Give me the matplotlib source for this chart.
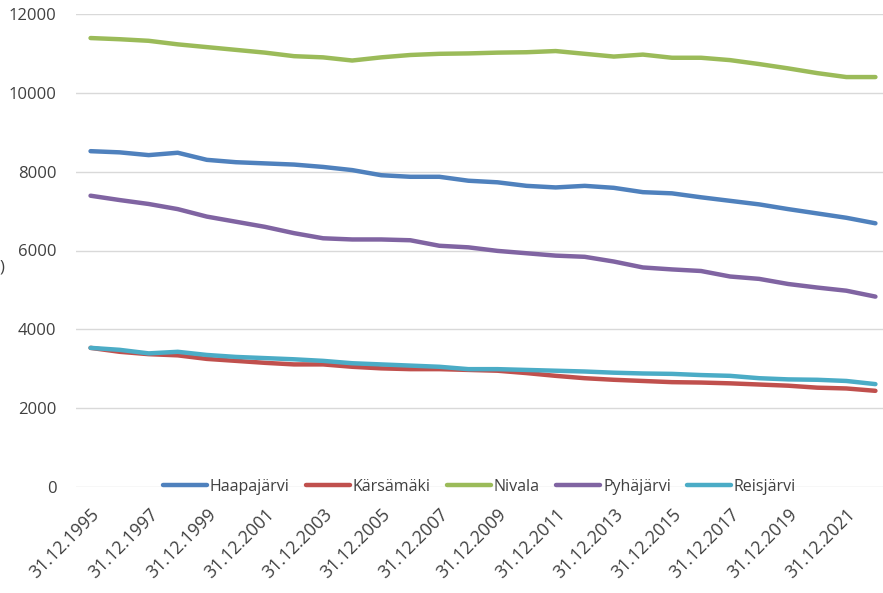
import matplotlib.pyplot as plt

plt.rcParams['font.family'] = ['Open Sans', 'DejaVu Sans']

# vuodet 1995-2022, väkiluku 31.12.
years = list(range(1995, 2023))
haapajarvi = [8520, 8490, 8420, 8480, 8300, 8240, 8210, 8180, 8120, 8040, 7910, 7870, 7870, 7770,
              7730, 7640, 7600, 7640, 7590, 7480, 7450, 7350, 7260, 7170, 7050, 6940, 6830, 6690]
karsamaki = [3530, 3430, 3370, 3340, 3250, 3200, 3150, 3110, 3110, 3050, 3010, 2990, 2990, 2970,
             2950, 2890, 2820, 2760, 2720, 2690, 2660, 2650, 2630, 2600, 2570, 2520, 2500, 2440]
nivala = [11390, 11360, 11320, 11230, 11160, 11090, 11020, 10930, 10900, 10820, 10900, 10960, 10990, 11000,
          11020, 11030, 11060, 10990, 10920, 10970, 10890, 10890, 10830, 10730, 10620, 10500, 10400, 10400]
pyhajarvi = [7390, 7280, 7180, 7050, 6860, 6730, 6600, 6440, 6310, 6280, 6280, 6260, 6120, 6080,
             5990, 5930, 5870, 5840, 5720, 5570, 5520, 5480, 5340, 5280, 5150, 5060, 4980, 4830]
reisjarvi = [3530, 3480, 3390, 3430, 3350, 3300, 3270, 3240, 3200, 3140, 3110, 3080, 3050, 2990,
             2990, 2970, 2950, 2930, 2900, 2880, 2870, 2840, 2820, 2760, 2730, 2720, 2690, 2610]

names = ['Haapajärvi', 'Kärsämäki', 'Nivala', 'Pyhäjärvi', 'Reisjärvi']
series = [haapajarvi, karsamaki, nivala, pyhajarvi, reisjarvi]
colors = ['#4F81BD', '#C0504D', '#9BBB59', '#8064A2', '#4BACC6']

labels = ['31.12.' + str(y) for y in years]
x = list(range(len(years)))

fig = plt.figure(figsize=(8.83, 5.93), dpi=100)
ax = fig.add_axes([76 / 883, 106 / 593, 1 - 76 / 883, 473 / 593])

for name, vals, c in zip(names, series, colors):
    ax.plot(x, vals, color=c, lw=3.2, label=name, solid_joinstyle='round', solid_capstyle='round')

ax.set_ylim(0, 12000)
ax.set_yticks(range(0, 12001, 2000))
ax.set_xlim(-0.5, -0.5 + 807 / 29.07)
ax.set_xticks(x[::2])
ax.set_xticklabels(labels[::2], rotation=45, ha='right', rotation_mode='anchor')

ax.grid(axis='y', color='#d9d9d9', lw=1)
ax.set_axisbelow(True)
for s in ax.spines.values():
    s.set_visible(False)
ax.tick_params(axis='y', length=0, pad=14, labelsize=12, labelcolor='#404040')
ax.tick_params(axis='x', length=0, pad=13, labelsize=12.8, labelcolor='#404040')

ax.legend(loc='center', bbox_to_anchor=(0.5, 0), ncol=5, frameon=False, fontsize=11.5,
          handlelength=2.75, handletextpad=0.2, columnspacing=1.0, labelcolor='#404040')

# akselin otsikon reunasta näkyvä osa
fig.text(0.0, 1 - 267 / 593, ')', fontsize=12, color='#404040', ha='left', va='center')

fig.savefig('out.png', dpi=100)
